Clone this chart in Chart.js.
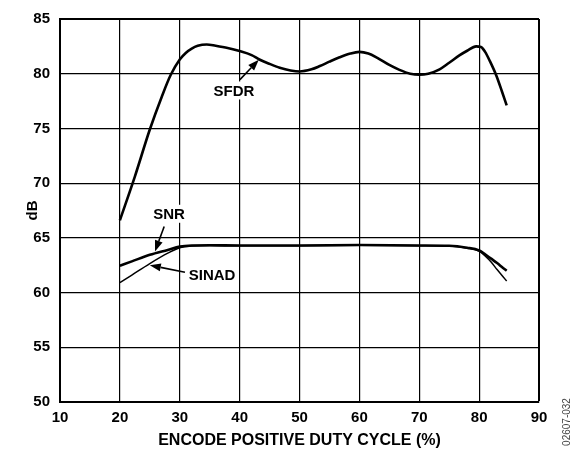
<!DOCTYPE html>
<html>
<head>
<meta charset="utf-8">
<script src="https://cdn.jsdelivr.net/npm/chart.js@4/dist/chart.umd.min.js"></script>
<style>
  html, body { margin: 0; padding: 0; background: #fff; }
  #wrap { width: 574px; height: 451px; position: relative; }
</style>
</head>
<body>
<div id="wrap"><canvas id="c" width="574" height="451"></canvas></div>
<script>
// ---- data ----
const sfdrX = [20, 22.5, 25, 27, 28.5, 30, 31, 32, 33, 34.5, 36, 38, 40, 42, 43.3, 45, 46.7, 48.5, 50, 52, 53.4, 55, 56.7, 58.5, 60, 61.5, 63, 65, 66.7, 68.5, 70, 71.5, 73.4, 75, 76.7, 78, 79.5, 80.3, 81, 81.8, 82.9, 83.8, 84.6];
const sfdrY = [66.6, 70.6, 74.9, 77.9, 79.9, 81.3, 81.9, 82.3, 82.55, 82.67, 82.55, 82.35, 82.07, 81.7, 81.3, 80.9, 80.55, 80.3, 80.2, 80.4, 80.7, 81.1, 81.5, 81.85, 82.0, 81.85, 81.45, 80.8, 80.35, 80.0, 79.9, 80.0, 80.4, 81.0, 81.67, 82.1, 82.5, 82.45, 82.0, 81.15, 79.8, 78.4, 77.1];
const snrX = [20, 22, 25, 28, 30, 32, 35, 40, 50, 60, 70, 75, 78, 80, 81, 82, 83, 84, 84.6];
const snrY = [62.45, 62.85, 63.45, 63.9, 64.2, 64.3, 64.32, 64.3, 64.3, 64.35, 64.3, 64.28, 64.1, 63.85, 63.5, 63.1, 62.7, 62.25, 62.0];
const sinadX = [20, 22, 25, 28, 30, 32, 35, 40, 50, 60, 70, 75, 78, 80, 81, 82, 83, 84, 84.6];
const sinadY = [60.9, 61.6, 62.65, 63.6, 64.1, 64.25, 64.3, 64.28, 64.28, 64.32, 64.28, 64.25, 64.05, 63.8, 63.35, 62.8, 62.1, 61.45, 61.05];
const xTicks = [10, 20, 30, 40, 50, 60, 70, 80, 90];
const yTicks = [50, 55, 60, 65, 70, 75, 80, 85];
const seriesNames = ['SFDR', 'SNR', 'SINAD'];
const xTitle = 'ENCODE POSITIVE DUTY CYCLE (%)';
const yTitle = 'dB';
const figId = '02607-032';

// annotation labels with arrows, in data coordinates
const notes = [
  { text: 'SFDR',  lx: 39.05, ly: 78.47, tx: 40.05, ty: 79.46, hx: 43.2,  hy: 81.28 },
  { text: 'SNR',   lx: 28.2,  ly: 67.2,  tx: 27.4,  ty: 66.03, hx: 25.86, hy: 63.76 },
  { text: 'SINAD', lx: 35.4,  ly: 61.6,  tx: 30.87, ty: 61.86, hx: 25.0,  hy: 62.5 }
];

const toPts = (xs, ys) => xs.map((x, i) => ({ x: x, y: ys[i] }));
const FONT = '"Liberation Sans", Arial, sans-serif';

const notePlugin = {
  id: 'notes',
  afterDatasetsDraw(chart) {
    const ctx = chart.ctx, xs = chart.scales.x, ys = chart.scales.y;
    ctx.save();
    ctx.font = 'bold 15px ' + FONT;
    ctx.textAlign = 'center';
    ctx.textBaseline = 'middle';
    notes.forEach(n => {
      const lx = xs.getPixelForValue(n.lx), ly = ys.getPixelForValue(n.ly);
      const w = ctx.measureText(n.text).width;
      ctx.fillStyle = '#fff';
      ctx.fillRect(lx - w / 2 - 2, ly - 9, w + 4, 18);
      ctx.fillStyle = '#000';
      ctx.fillText(n.text, lx, ly + 1);
      const tx = xs.getPixelForValue(n.tx), ty = ys.getPixelForValue(n.ty);
      const hx = xs.getPixelForValue(n.hx), hy = ys.getPixelForValue(n.hy);
      const ang = Math.atan2(hy - ty, hx - tx);
      const L = 11, W = 4;
      const bx = hx - L * Math.cos(ang), by = hy - L * Math.sin(ang);
      ctx.strokeStyle = '#000';
      ctx.lineWidth = 1.6;
      ctx.beginPath(); ctx.moveTo(tx, ty); ctx.lineTo(bx, by); ctx.stroke();
      ctx.beginPath();
      ctx.moveTo(hx, hy);
      ctx.lineTo(bx + W * Math.sin(ang), by - W * Math.cos(ang));
      ctx.lineTo(bx - W * Math.sin(ang), by + W * Math.cos(ang));
      ctx.closePath(); ctx.fillStyle = '#000'; ctx.fill();
    });
    // figure id
    ctx.font = '10px ' + FONT;
    ctx.fillStyle = '#444';
    ctx.translate(567, 422);
    ctx.rotate(-Math.PI / 2);
    ctx.fillText(figId, 0, 0);
    ctx.restore();
  }
};

new Chart(document.getElementById('c'), {
  type: 'line',
  data: {
    datasets: [
      { label: seriesNames[0], data: toPts(sfdrX, sfdrY), borderColor: '#000', borderWidth: 2.6, pointRadius: 0, cubicInterpolationMode: 'monotone', fill: false },
      { label: seriesNames[1], data: toPts(snrX, snrY), borderColor: '#000', borderWidth: 2.6, pointRadius: 0, cubicInterpolationMode: 'monotone', fill: false },
      { label: seriesNames[2], data: toPts(sinadX, sinadY), borderColor: '#000', borderWidth: 1.5, pointRadius: 0, cubicInterpolationMode: 'monotone', fill: false }
    ]
  },
  options: {
    responsive: false,
    animation: false,
    layout: { padding: { top: 16, right: 35, left: 0, bottom: 0 } },
    plugins: { legend: { display: false }, tooltip: { enabled: false } },
    scales: {
      x: {
        type: 'linear', min: 10, max: 90,
        afterBuildTicks: s => { s.ticks = xTicks.map(v => ({ value: v })); },
        afterFit: s => { s.height = 49; },
        ticks: { color: '#000', font: { family: FONT, size: 15, weight: 'bold' }, padding: 7, maxRotation: 0 },
        grid: { color: '#000', lineWidth: c => (c.tick && c.tick.value === 90 ? 2 : 1.2), drawTicks: false },
        border: { display: true, color: '#000', width: 2 },
        title: { display: true, text: xTitle, color: '#000', font: { family: FONT, size: 16, weight: 'bold' }, padding: { top: 0, bottom: 1 } }
      },
      y: {
        type: 'linear', min: 50, max: 85,
        afterBuildTicks: s => { s.ticks = yTicks.map(v => ({ value: v })); },
        afterFit: s => { s.width = 60; },
        ticks: { color: '#000', font: { family: FONT, size: 15, weight: 'bold' }, padding: 10 },
        grid: { color: '#000', lineWidth: c => (c.tick && c.tick.value === 85 ? 2 : 1.2), drawTicks: false },
        border: { display: true, color: '#000', width: 2 },
        title: { display: true, text: yTitle, color: '#000', font: { family: FONT, size: 15, weight: 'bold' }, padding: { top: 24, bottom: 0 } }
      }
    }
  },
  plugins: [notePlugin]
});
</script>
</body>
</html>
